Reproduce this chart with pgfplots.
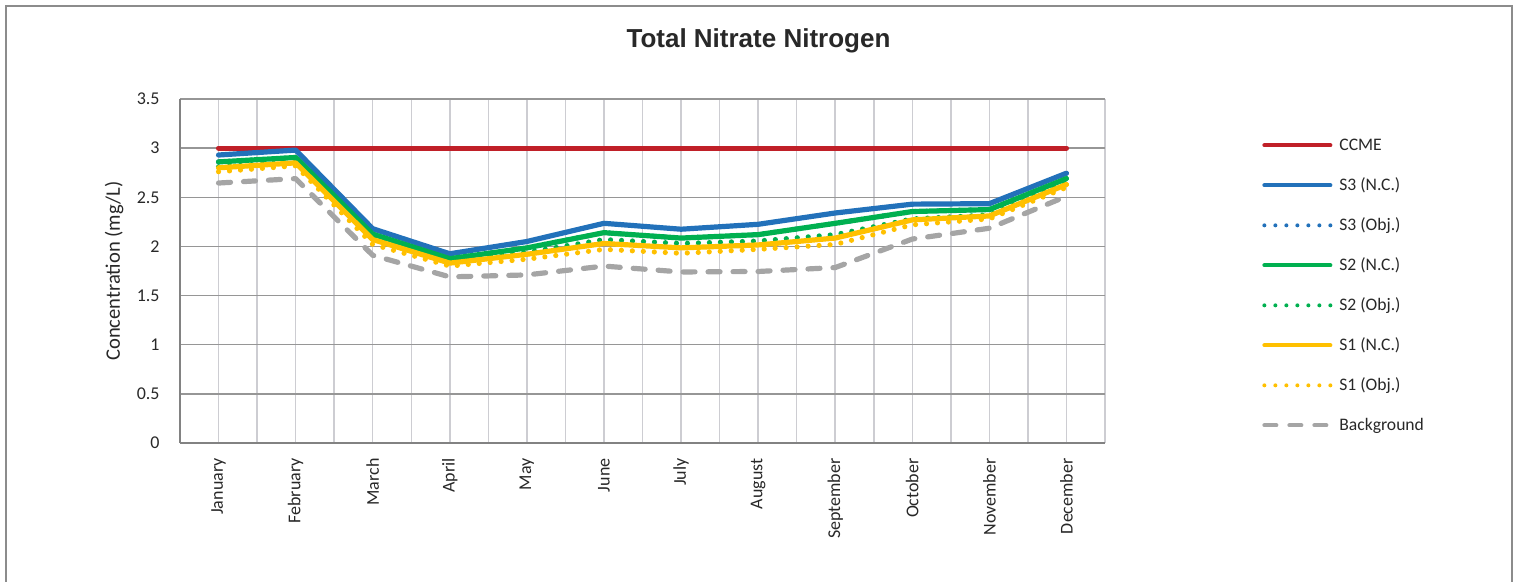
\documentclass[border=0pt]{standalone}
\usepackage{pgfplots}
\pgfplotsset{compat=1.18}
\usepackage{fontspec}
\setmainfont{Carlito}
\newfontfamily\titlefont{Liberation Sans}
\definecolor{ccme}{RGB}{192,32,40}
\definecolor{sblue}{RGB}{34,113,186}
\definecolor{sgreen}{RGB}{0,176,80}
\definecolor{syellow}{RGB}{255,192,0}
\definecolor{sgray}{RGB}{165,165,165}
\definecolor{hgrid}{RGB}{150,150,150}
\definecolor{vgrid}{RGB}{205,205,210}
\definecolor{axgray}{RGB}{130,130,130}
\definecolor{framegray}{RGB}{140,140,140}
\definecolor{txt}{RGB}{40,40,40}
\begin{document}
\begin{tikzpicture}
\path[use as bounding box] (0,0) rectangle (758.5pt,291pt);
\draw[color=framegray, line width=0.75pt] (3pt,-5pt) rectangle (756pt,288pt);
\node[font=\titlefont\bfseries\fontsize{13}{15}\selectfont, text=txt] at (379.25pt,270.5pt) {Total Nitrate Nitrogen};
\node[rotate=90, font=\fontsize{10.3}{12}\selectfont, text=txt] at (57pt,155.5pt) {Concentration (mg/L)};
\begin{axis}[
  at={(90pt,69.5pt)}, anchor=south west,
  scale only axis, width=462.5pt, height=172pt,
  xmin=-0.5, xmax=11.5, ymin=0, ymax=3.5,
  xtick={0,1,2,3,4,5,6,7,8,9,10,11},
  xticklabels={January,February,March,April,May,June,July,August,September,October,November,December},
  minor xtick={-0.5,0.5,1.5,2.5,3.5,4.5,5.5,6.5,7.5,8.5,9.5,10.5,11.5},
  ytick={0,0.5,1,1.5,2,2.5,3,3.5},
  yticklabels={0,0.5,1,1.5,2,2.5,3,3.5},
  xmajorgrids, xminorgrids, ymajorgrids,
  major x grid style={draw=vgrid, line width=0.75pt},
  minor x grid style={draw=vgrid, line width=0.75pt},
  major y grid style={draw=hgrid, line width=0.75pt},
  axis lines*=left,
  axis line style={draw=axgray, line width=0.75pt, -},
  major tick length=0pt, minor tick length=0pt,
  tick style={draw=none},
  ticklabel style={font=\fontsize{9}{10}\selectfont, text=txt},
  yticklabel style={anchor=east, inner sep=0pt, xshift=-10pt},
  xticklabel style={yshift=-7.5pt, rotate=90, anchor=east, inner sep=0pt},
  every axis plot/.append style={line width=2.6pt, line cap=round, line join=round},
  legend image code/.code={\draw[#1, line width=2pt] (0pt,2.5pt) -- (33pt,2.5pt);},
  legend cell align=left,
  legend style={at={(1.1697,0.91)}, anchor=north west, draw=none, fill=none, inner sep=0pt,
    font=\fontsize{8.8}{10}\selectfont, text=txt,
    nodes={inner sep=0pt, text height=10pt, text depth=10pt},
    /tikz/every odd column/.append style={column sep=3.5pt}},
]
\addplot[ccme] coordinates {(0,3) (1,3) (2,3) (3,3) (4,3) (5,3) (6,3) (7,3) (8,3) (9,3) (10,3) (11,3)};
\addlegendentry{CCME}
\addplot[sblue] coordinates {(0,2.93) (1,2.98) (2,2.18) (3,1.925) (4,2.05) (5,2.235) (6,2.175) (7,2.225) (8,2.34) (9,2.43) (10,2.435) (11,2.745)};
\addlegendentry{S3 (N.C.)}
\addplot[sblue, dash pattern=on 0pt off 5.5pt] coordinates {(0,2.86) (1,2.905) (2,2.125) (3,1.875) (4,1.985) (5,2.14) (6,2.085) (7,2.12) (8,2.235) (9,2.355) (10,2.375) (11,2.69)};
\addlegendentry{S3 (Obj.)}
\addplot[sgreen] coordinates {(0,2.86) (1,2.905) (2,2.125) (3,1.875) (4,1.985) (5,2.14) (6,2.085) (7,2.12) (8,2.235) (9,2.355) (10,2.375) (11,2.69)};
\addlegendentry{S2 (N.C.)}
\addplot[sgreen, dash pattern=on 0pt off 5.5pt] coordinates {(0,2.81) (1,2.86) (2,2.08) (3,1.84) (4,1.94) (5,2.07) (6,2.03) (7,2.055) (8,2.12) (9,2.28) (10,2.32) (11,2.65)};
\addlegendentry{S2 (Obj.)}
\addplot[syellow] coordinates {(0,2.80) (1,2.85) (2,2.07) (3,1.83) (4,1.92) (5,2.03) (6,1.985) (7,2.015) (8,2.085) (9,2.27) (10,2.31) (11,2.63)};
\addlegendentry{S1 (N.C.)}
\addplot[syellow, dash pattern=on 0pt off 5.5pt] coordinates {(0,2.76) (1,2.82) (2,2.02) (3,1.80) (4,1.87) (5,1.97) (6,1.93) (7,1.97) (8,2.02) (9,2.22) (10,2.28) (11,2.60)};
\addlegendentry{S1 (Obj.)}
\addplot[sgray, dash pattern=on 6pt off 6.5pt] coordinates {(0,2.645) (1,2.69) (2,1.91) (3,1.69) (4,1.71) (5,1.80) (6,1.74) (7,1.745) (8,1.785) (9,2.075) (10,2.185) (11,2.51)};
\addlegendentry{Background}
\end{axis}
\end{tikzpicture}
\end{document}
